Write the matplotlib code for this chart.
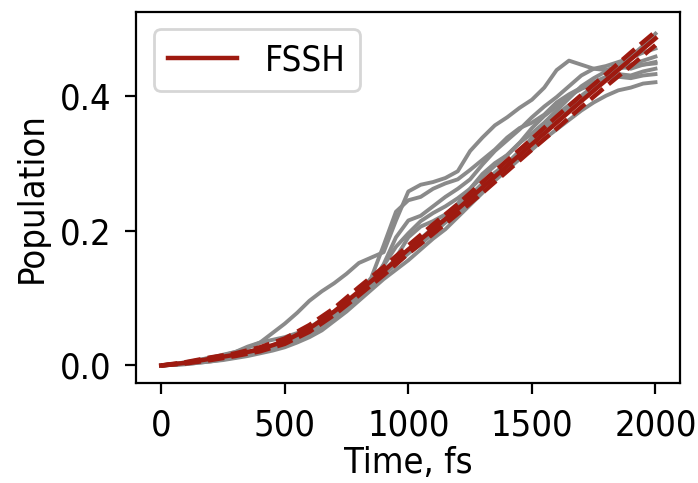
import numpy as np
import matplotlib
matplotlib.use("Agg")
import matplotlib.pyplot as plt
from matplotlib import font_manager

# Prefer a condensed sans face when one is installed
stretch = "normal"
for f in font_manager.fontManager.ttflist:
    if f.name == "DejaVu Sans" and str(f.stretch) in ("condensed", "semi-condensed", "600", "700"):
        stretch = "condensed"
        break
plt.rcParams["font.family"] = ["DejaVu Sans"]
plt.rcParams["font.stretch"] = stretch
plt.rcParams["font.size"] = 13
for axis in ("xtick", "ytick"):
    plt.rcParams[f"{axis}.major.size"] = 4.0
    plt.rcParams[f"{axis}.major.pad"] = 5.0

# Time grids (fs)
t_traj = np.arange(0, 2001, 50)
t_mean = np.arange(0, 2001, 100)

# Individual trajectory-ensemble populations
traj_1 = [0.000, 0.002, 0.004, 0.008, 0.012, 0.015, 0.020, 0.026, 0.034, 0.048,
          0.062, 0.078, 0.096, 0.110, 0.122, 0.136, 0.152, 0.160, 0.168, 0.215,
          0.258, 0.268, 0.272, 0.278, 0.288, 0.318, 0.338, 0.356, 0.368, 0.382,
          0.394, 0.412, 0.438, 0.452, 0.446, 0.440, 0.438, 0.444, 0.440, 0.446, 0.448]
traj_2 = [0.000, 0.001, 0.003, 0.006, 0.009, 0.012, 0.015, 0.020, 0.025, 0.030,
          0.036, 0.044, 0.052, 0.062, 0.075, 0.090, 0.108, 0.130, 0.178, 0.228,
          0.245, 0.250, 0.262, 0.270, 0.276, 0.290, 0.305, 0.320, 0.338, 0.352,
          0.360, 0.372, 0.390, 0.402, 0.412, 0.420, 0.428, 0.432, 0.430, 0.436, 0.440]
traj_3 = [0.000, 0.002, 0.004, 0.006, 0.010, 0.012, 0.016, 0.019, 0.024, 0.028,
          0.033, 0.040, 0.050, 0.060, 0.072, 0.086, 0.104, 0.122, 0.150, 0.190,
          0.215, 0.222, 0.236, 0.250, 0.262, 0.276, 0.298, 0.318, 0.334, 0.350,
          0.368, 0.384, 0.398, 0.414, 0.430, 0.440, 0.444, 0.450, 0.456, 0.464, 0.470]
traj_4 = [0.000, 0.001, 0.002, 0.004, 0.006, 0.008, 0.011, 0.014, 0.018, 0.022,
          0.027, 0.034, 0.042, 0.052, 0.066, 0.080, 0.096, 0.112, 0.128, 0.142,
          0.156, 0.172, 0.188, 0.202, 0.220, 0.238, 0.256, 0.274, 0.290, 0.306,
          0.320, 0.336, 0.350, 0.364, 0.378, 0.390, 0.400, 0.408, 0.412, 0.418, 0.420]
traj_5 = [0.000, 0.002, 0.003, 0.006, 0.009, 0.012, 0.015, 0.020, 0.024, 0.028,
          0.034, 0.044, 0.052, 0.064, 0.078, 0.092, 0.108, 0.124, 0.140, 0.158,
          0.170, 0.188, 0.204, 0.218, 0.234, 0.252, 0.270, 0.286, 0.300, 0.318,
          0.334, 0.350, 0.366, 0.380, 0.396, 0.412, 0.428, 0.444, 0.458, 0.474, 0.492]
traj_6 = [0.000, 0.002, 0.005, 0.008, 0.011, 0.016, 0.020, 0.028, 0.034, 0.038,
          0.042, 0.048, 0.056, 0.068, 0.080, 0.094, 0.104, 0.118, 0.134, 0.160,
          0.190, 0.206, 0.214, 0.224, 0.240, 0.262, 0.284, 0.300, 0.312, 0.330,
          0.352, 0.370, 0.384, 0.400, 0.410, 0.418, 0.424, 0.428, 0.426, 0.430, 0.432]
traj_7 = [0.000, 0.001, 0.002, 0.004, 0.006, 0.009, 0.012, 0.016, 0.020, 0.025,
          0.031, 0.038, 0.046, 0.056, 0.068, 0.082, 0.098, 0.116, 0.134, 0.150,
          0.166, 0.180, 0.196, 0.212, 0.226, 0.244, 0.262, 0.278, 0.296, 0.316,
          0.338, 0.356, 0.372, 0.386, 0.400, 0.414, 0.426, 0.440, 0.446, 0.452, 0.458]
traj_8 = [0.000, 0.001, 0.003, 0.005, 0.008, 0.010, 0.013, 0.017, 0.022, 0.026,
          0.032, 0.040, 0.048, 0.058, 0.070, 0.084, 0.100, 0.118, 0.148, 0.176,
          0.196, 0.214, 0.226, 0.236, 0.248, 0.262, 0.280, 0.296, 0.312, 0.330,
          0.344, 0.360, 0.378, 0.396, 0.414, 0.426, 0.436, 0.440, 0.444, 0.446, 0.450]

# FSSH average with its confidence band
fssh_mean = [0.000, 0.004, 0.010, 0.016, 0.024, 0.036, 0.055, 0.080, 0.110, 0.140,
             0.172, 0.202, 0.232, 0.264, 0.296, 0.328, 0.360, 0.392, 0.423, 0.454, 0.485]
fssh_lower = [0.000, 0.003, 0.008, 0.014, 0.021, 0.032, 0.050, 0.075, 0.104, 0.134,
              0.166, 0.195, 0.225, 0.256, 0.288, 0.320, 0.351, 0.383, 0.414, 0.444, 0.475]
fssh_upper = [0.000, 0.005, 0.012, 0.018, 0.027, 0.040, 0.060, 0.085, 0.116, 0.146,
              0.178, 0.209, 0.239, 0.272, 0.304, 0.336, 0.369, 0.401, 0.432, 0.464, 0.495]

trajectories = [traj_1, traj_2, traj_3, traj_4, traj_5, traj_6, traj_7, traj_8]

fig = plt.figure(figsize=(3.49, 2.415), dpi=200)
ax = fig.add_axes([0.1955, 0.207, 0.779, 0.768])

for tr in trajectories:
    ax.plot(t_traj, tr, color="#8a8a8a", lw=1.4)

red = "#9e1a10"
ax.plot(t_mean, fssh_mean, color=red, lw=1.6, label="FSSH")
ax.plot(t_mean, fssh_lower, color=red, lw=1.6, ls="--")
ax.plot(t_mean, fssh_upper, color=red, lw=1.6, ls="--")

ax.set_xlim(-100, 2100)
ax.set_ylim(-0.026, 0.524)
ax.set_xticks([0, 500, 1000, 1500, 2000])
ax.set_yticks([0.0, 0.2, 0.4])
ax.set_xlabel("Time, fs", labelpad=1.5)
ax.set_ylabel("Population")
ax.legend(loc="upper left", fontsize=12.5)

fig.savefig("out.png", dpi=200)
